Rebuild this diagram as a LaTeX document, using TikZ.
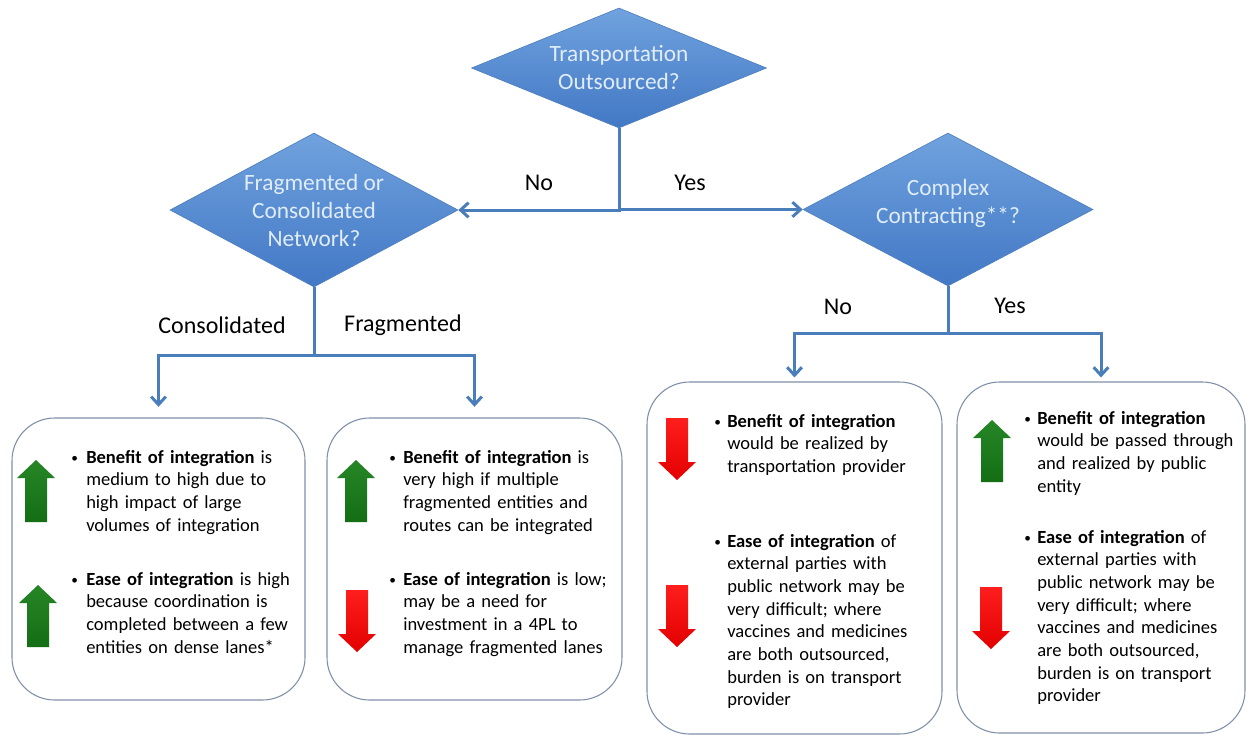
\documentclass[tikz,border=0pt]{standalone}
\usepackage{fontspec}
\setmainfont{Carlito}
\usetikzlibrary{shapes.geometric,arrows.meta}

\definecolor{flowblue}{RGB}{74,126,187}
\definecolor{dtop}{RGB}{112,162,222}
\definecolor{dbot}{RGB}{66,120,197}
\definecolor{dedge}{RGB}{80,128,190}
\definecolor{dtext}{RGB}{224,236,248}
\definecolor{boxline}{RGB}{128,143,168}
\definecolor{grntop}{RGB}{38,134,38}
\definecolor{grnbot}{RGB}{20,110,20}
\definecolor{redtop}{RGB}{255,30,30}
\definecolor{redbot}{RGB}{226,0,0}

\tikzset{
  decision/.style={diamond, inner sep=0pt, draw=dedge, line width=0.5pt,
    top color=dtop, bottom color=dbot},
  question/.style={inner sep=0pt, text=dtext, align=center,
    font=\fontsize{17.5}{21}\selectfont},
  flow/.style={draw=flowblue, line width=2.25pt,
    -{Straight Barb[length=6pt,width=11pt]}},
  outcome/.style={rectangle, draw=boxline, line width=0.8pt, fill=white,
    rounded corners=32pt, inner sep=0pt},
  branch/.style={inner sep=0pt, font=\fontsize{18}{21}\selectfont},
  bodytext/.style={anchor=base west, inner sep=0pt, align=left,
    text width=180pt, font=\fontsize{13.9}{17}\selectfont},
  dot/.style={anchor=base west, inner sep=0pt, font=\fontsize{10}{12}\selectfont},
  pics/gainarrow/.style={code={
    \path[top color=grntop, bottom color=grnbot]
      (0,0) -- (19,18) -- (11,18) -- (11,62) -- (-11,62) -- (-11,18) -- (-19,18) -- cycle;}},
  pics/lossarrow/.style={code={
    \path[top color=redtop, bottom color=redbot]
      (0,62) -- (19,44) -- (11,44) -- (11,0) -- (-11,0) -- (-11,44) -- (-19,44) -- cycle;}},
}

\begin{document}
\begin{tikzpicture}[x=0.75pt,y=-0.75pt]
\fill[white] (0,0) rectangle (1251,736);
\useasboundingbox (0,0) rectangle (1251,736);

% decisions
\node[decision, minimum width=221.25pt, minimum height=90pt] (t) at (619,68) {};
\node[question] (tq) at (t.center) {Transportation\\Outsourced?};
\node[decision, minimum width=216pt, minimum height=115.5pt] (d2) at (314,210) {};
\node[question] (d2q) at (d2.center) {Fragmented or\\Consolidated\\Network?};
\node[decision, minimum width=217.5pt, minimum height=114.75pt] (d3) at (948,209.5) {};
\node[question] (d3q) at (948,203) {Complex\\Contracting**?};

% outcome boxes
\node[outcome, minimum width=219.75pt, minimum height=211.5pt] (b1) at (158.5,559) {};
\node[outcome, minimum width=221.25pt, minimum height=211.5pt] (b2) at (474.5,559) {};
\node[outcome, minimum width=221.25pt, minimum height=264pt] (b3) at (794.5,558) {};
\node[outcome, minimum width=216pt, minimum height=263.25pt] (b4) at (1101,557.5) {};

% connectors
\coordinate (j2) at (314,355);
\coordinate (j3) at (948,333);
\draw[flow] (t.south) |- (d2.east);
\draw[flow] (t.south) |- (d3.west);
\draw[flow, shorten >=8pt] (d2.south) -- (j2) -| (b1.north);
\draw[flow, shorten >=8pt] (d2.south) -- (j2) -| (b2.north);
\draw[flow, shorten >=3pt] (d3.south) -- (j3) -| (b3.north);
\draw[flow, shorten >=3pt] (d3.south) -- (j3) -| (b4.north);

% branch labels
\node[branch] (lno1) at (539,183) {No};
\node[branch] (lyes1) at (690,183) {Yes};
\node[branch] (lcons) at (222,325) {Consolidated};
\node[branch] (lfrag) at (403,325) {Fragmented};
\node[branch] (lno2) at (838,307) {No};
\node[branch] (lyes2) at (1010,306) {Yes};

% box 1: consolidated network
\pic at (36,460) {gainarrow};
\pic at (38,585) {gainarrow};
\node[dot] (b1d1) at (71,462) {\textbullet};
\node[bodytext] (b1t1) at (86,463)
  {\textbf{Benefit of integration} is\\medium to high due to\\high impact of large\\volumes of integration};
\node[dot] (b1d2) at (71,584) {\textbullet};
\node[bodytext] (b1t2) at (86,585)
  {\textbf{Ease of integration} is high\\because coordination is\\completed between a few\\entities on dense lanes*};

% box 2: fragmented network
\pic at (356,460) {gainarrow};
\pic at (357,590) {lossarrow};
\node[dot] (b2d1) at (389,462) {\textbullet};
\node[bodytext] (b2t1) at (403,463)
  {\textbf{Benefit of integration} is\\very high if multiple\\fragmented entities and\\routes can be integrated};
\node[dot] (b2d2) at (389,584) {\textbullet};
\node[bodytext] (b2t2) at (403,585)
  {\textbf{Ease of integration} is low;\\may be a need for\\investment in a 4PL to\\manage fragmented lanes};

% box 3: simple contracting
\pic at (677,418) {lossarrow};
\pic at (677,585) {lossarrow};
\node[dot] (b3d1) at (714,426) {\textbullet};
\node[bodytext] (b3t1) at (727,427)
  {\textbf{Benefit of integration}\\would be realized by\\transportation provider};
\node[dot] (b3d2) at (714,546) {\textbullet};
\node[bodytext] (b3t2) at (727,547)
  {\textbf{Ease of integration} of\\external parties with\\public network may be\\very difficult; where\\vaccines and medicines\\are both outsourced,\\burden is on transport\\provider};

% box 4: complex contracting
\pic at (992,420) {gainarrow};
\pic at (991,587) {lossarrow};
\node[dot] (b4d1) at (1024,423) {\textbullet};
\node[bodytext] (b4t1) at (1037,424)
  {\textbf{Benefit of integration}\\would be passed through\\and realized by public\\entity};
\node[dot] (b4d2) at (1024,542) {\textbullet};
\node[bodytext] (b4t2) at (1037,543)
  {\textbf{Ease of integration} of\\external parties with\\public network may be\\very difficult; where\\vaccines and medicines\\are both outsourced,\\burden is on transport\\provider};
\end{tikzpicture}
\end{document}
